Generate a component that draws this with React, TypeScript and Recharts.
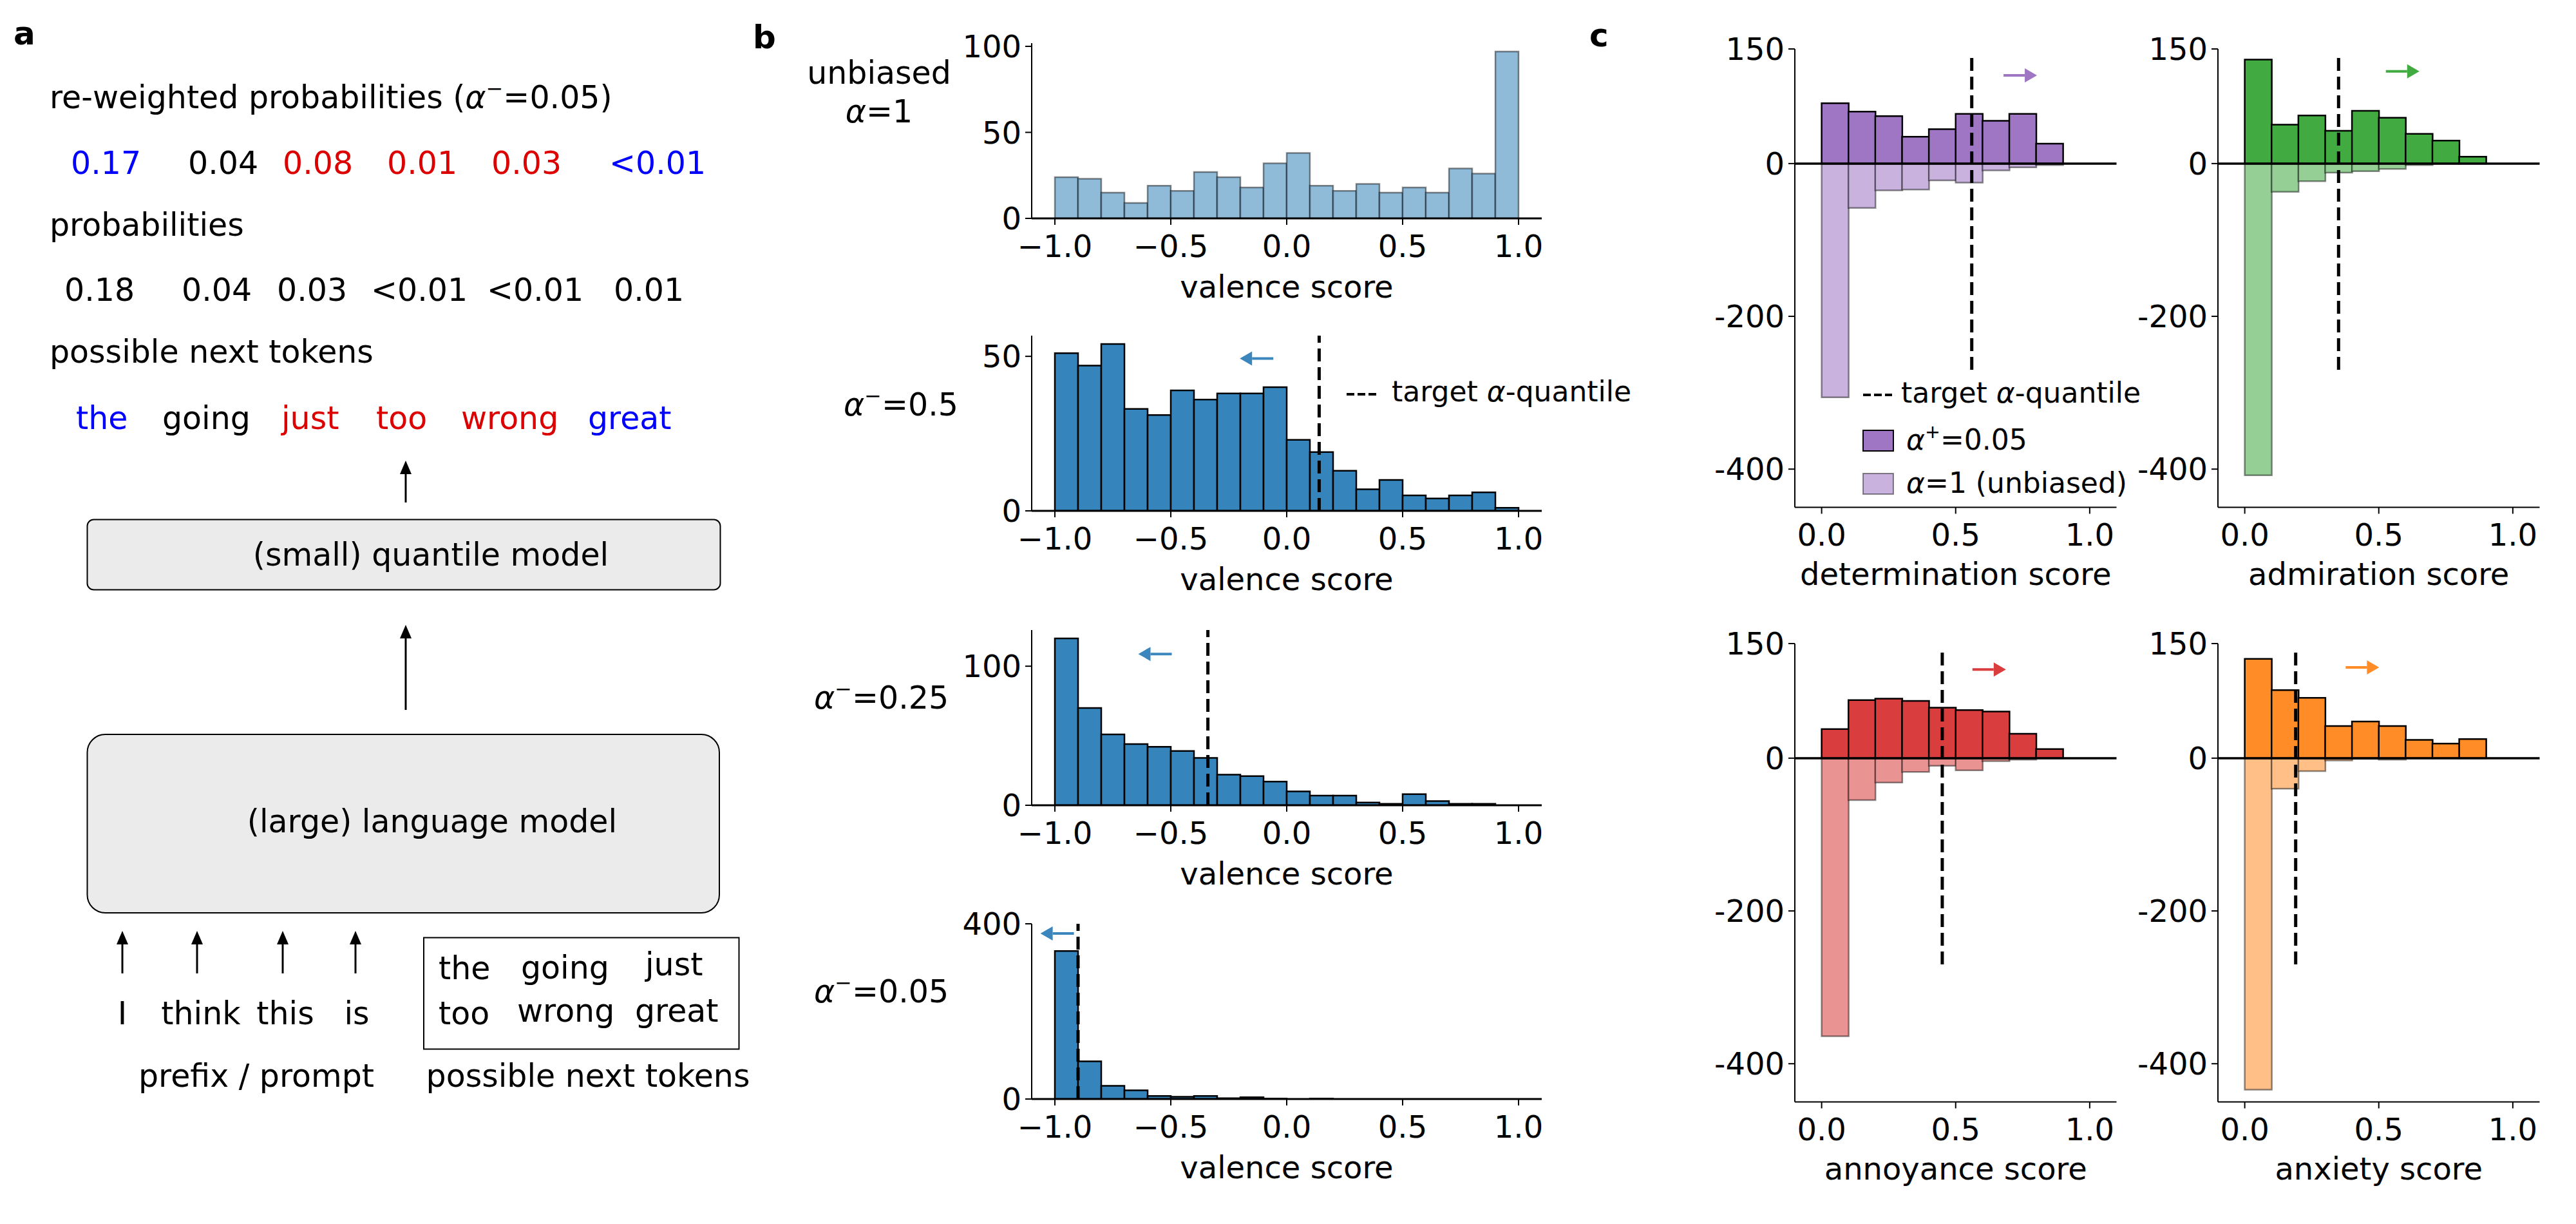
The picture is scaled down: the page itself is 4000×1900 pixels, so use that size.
import React from "react";
import { BarChart, Bar, XAxis, YAxis, ReferenceLine, ReferenceDot, Legend } from "recharts";

document.body.style.margin = "0";

const FONT = "'DejaVu Sans', 'Liberation Sans', sans-serif";
const TXT = 48;

// ---------- panel a (diagram text) ----------
const candidateTokens = ["the", "going", "just", "too", "wrong", "great"];
const reweightedProbs = ["0.17", "0.04", "0.08", "0.01", "0.03", "<0.01"];
const baseProbs = ["0.18", "0.04", "0.03", "<0.01", "<0.01", "0.01"];
const tokenColors = ["#0000ff", "#000000", "#dd0000", "#dd0000", "#dd0000", "#0000ff"];
const promptWords = ["I", "think", "this", "is"];

// ---------- panel b: valence histograms (bins of 0.1) ----------
const valenceBins = [-0.95, -0.85, -0.75, -0.65, -0.55, -0.45, -0.35, -0.25, -0.15, -0.05,
  0.05, 0.15, 0.25, 0.35, 0.45, 0.55, 0.65, 0.75, 0.85, 0.95];
const unbiasedCounts = [24, 23, 15, 9, 19, 16, 27, 24, 18, 32, 38, 19, 16, 20, 15, 18, 15, 29, 26, 97];
const alpha050Counts = [51, 47, 54, 33, 31, 39, 36, 38, 38, 40, 23, 19, 13, 7, 10, 5, 4, 5, 6, 1];
const alpha025Counts = [120, 70, 51, 44, 42, 39, 34, 22, 21, 17, 10, 7, 7, 2, 1, 8, 3, 1, 1, 0];
const alpha005Counts = [338, 86, 30, 20, 7, 5, 7, 2, 4, 1, 0, 1, 0, 0, 0, 0, 0, 0, 0, 0];
const valenceQuantiles = [0.14, -0.34, -0.9];
const valenceTicks = [-1, -0.5, 0, 0.5, 1];

// ---------- panel c: emotion histograms (bins of 0.1) ----------
const scoreBins = [0.05, 0.15, 0.25, 0.35, 0.45, 0.55, 0.65, 0.75, 0.85, 0.95];
const determinationBiased = [79, 68, 62, 35, 45, 65, 56, 65, 26, 0];
const determinationUnbiased = [-306, -58, -35, -34, -22, -25, -9, -5, -2, 0];
const admirationBiased = [136, 51, 63, 43, 69, 60, 39, 30, 9, 0];
const admirationUnbiased = [-408, -37, -23, -12, -10, -7, -2, 0, 0, 0];
const annoyanceBiased = [38, 76, 78, 75, 66, 63, 61, 32, 12, 0];
const annoyanceUnbiased = [-364, -55, -32, -18, -10, -16, -4, -2, 0, 0];
const anxietyBiased = [130, 89, 79, 42, 48, 42, 24, 19, 25, 0];
const anxietyUnbiased = [-434, -40, -17, -3, -1, -2, 0, 0, 0, 0];
const emotionQuantiles = [0.56, 0.35, 0.45, 0.19];
const scoreTicks = [0, 0.5, 1];
const countTicks = [150, 0, -200, -400];

const AXIS_W = 160;
const AXIS_H = 150;
const PAD_T = 40;
const PAD_R = 6;

const axisText = { fontSize: TXT, fill: "#000", fontFamily: FONT };

function arrowShape(dir: number, color: string) {
  return (p: any) => {
    const { cx, cy } = p;
    const tip = cx + dir * 26;
    const base = tip - dir * 19;
    const tail = cx - dir * 26;
    return (
      <g>
        <line x1={tail} y1={cy} x2={base} y2={cy} stroke={color} strokeWidth={4} />
        <path d={`M${tip},${cy} L${base},${cy - 11} L${base},${cy + 11} Z`} fill={color} />
      </g>
    );
  };
}

function AlphaText({ sup, rest, fontSize }: { sup?: string; rest: string; fontSize: number }) {
  return (
    <>
      <tspan fontStyle="italic">α</tspan>
      {sup ? (
        <>
          <tspan fontSize={fontSize * 0.65} dy={-fontSize * 0.4}>{sup}</tspan>
          <tspan dy={fontSize * 0.4}>{rest}</tspan>
        </>
      ) : (
        <tspan>{rest}</tspan>
      )}
    </>
  );
}

const B_LEFT = 1602.3;
const B_W = 792;
const B_H = 272;

const bRows = [
  { top: 66.5, counts: unbiasedCounts, yMax: 101.85, yTicks: [0, 50, 100], fill: "#8fbbd9", edge: 0.45, q: null as number | null, arrow: null as any, legend: false },
  { top: 521, counts: alpha050Counts, yMax: 56.7, yTicks: [0, 50], fill: "#3585bc", edge: 1, q: valenceQuantiles[0], arrow: { x: -0.13, y: 49.3 }, legend: true },
  { top: 977.5, counts: alpha025Counts, yMax: 126, yTicks: [0, 100], fill: "#3585bc", edge: 1, q: valenceQuantiles[1], arrow: { x: -0.568, y: 108.8 }, legend: false },
  { top: 1433.5, counts: alpha005Counts, yMax: 400, yTicks: [0, 400], fill: "#3585bc", edge: 1, q: valenceQuantiles[2], arrow: { x: -0.99, y: 378 }, legend: false },
];

function ValenceHist({ row }: { row: (typeof bRows)[number] }) {
  const data = valenceBins.map((bin, i) => ({ bin, count: row.counts[i] }));
  const boxLeft = B_LEFT - AXIS_W;
  const boxTop = row.top - PAD_T;
  return (
    <div style={{ position: "absolute", left: boxLeft, top: boxTop }}>
      <BarChart
        width={AXIS_W + B_W + PAD_R}
        height={PAD_T + B_H + AXIS_H}
        data={data}
        margin={{ top: PAD_T, right: PAD_R, left: 0, bottom: 0 }}
        barCategoryGap={0}
        barGap={0}
      >
        <XAxis
          type="number"
          dataKey="bin"
          domain={[-1.1, 1.1]}
          allowDataOverflow
          ticks={valenceTicks}
          interval={0}
          height={AXIS_H}
          tick={axisText}
          tickSize={10}
          tickMargin={16}
          tickLine={{ stroke: "#000", strokeWidth: 2 }}
          axisLine={{ stroke: "#000", strokeWidth: 3 }}
          tickFormatter={(v: number) => (v < 0 ? `−${Math.abs(v).toFixed(1)}` : v.toFixed(1))}
          label={{ value: "valence score", position: "insideBottom", offset: 27, fontSize: TXT, fill: "#000" }}
        />
        <YAxis
          type="number"
          domain={[0, row.yMax]}
          allowDataOverflow
          ticks={row.yTicks}
          interval={0}
          width={AXIS_W}
          tick={axisText}
          tickSize={10}
          tickMargin={6}
          tickLine={{ stroke: "#000", strokeWidth: 2 }}
          axisLine={{ stroke: "#000", strokeWidth: 2 }}
        />
        <Bar
          dataKey="count"
          fill={row.fill}
          stroke="#000"
          strokeOpacity={row.edge}
          strokeWidth={2.5}
          isAnimationActive={false}
        />
        {row.q !== null && (
          <ReferenceLine x={row.q} stroke="#000" strokeWidth={5} strokeDasharray="20 9" />
        )}
        {row.arrow && (
          <ReferenceDot x={row.arrow.x} y={row.arrow.y} shape={arrowShape(-1, "#3a86bd")} />
        )}
        {row.legend && (
          <Legend
            layout="horizontal"
            verticalAlign="middle"
            align="center"
            wrapperStyle={{ left: 2080 - boxLeft, top: 570 - boxTop, width: 520, height: 70 }}
            content={() => (
              <svg width={520} height={70} style={{ overflow: "visible", fontFamily: FONT }}>
                <line x1={11} y1={42} x2={57} y2={42} stroke="#000" strokeWidth={4} strokeDasharray="12 5" />
                <text x={81} y={53} fontSize={44} fill="#000">
                  target <tspan fontStyle="italic">α</tspan>-quantile
                </text>
              </svg>
            )}
          />
        )}
      </BarChart>
    </div>
  );
}

const C_W = 499.5;
const C_H = 711.5;

const cPanels = [
  { left: 2786.8, top: 76.3, pos: determinationBiased, neg: determinationUnbiased, q: emotionQuantiles[0], label: "determination score", dark: "#9f76c4", light: "#c9b3de", arrow: { x: 0.741, y: 115.5 }, legend: true },
  { left: 3443.6, top: 76.3, pos: admirationBiased, neg: admirationUnbiased, q: emotionQuantiles[1], label: "admiration score", dark: "#41aa41", light: "#95cf95", arrow: { x: 0.589, y: 120.8 }, legend: false },
  { left: 2786.8, top: 998.9, pos: annoyanceBiased, neg: annoyanceUnbiased, q: emotionQuantiles[2], label: "annoyance score", dark: "#da3d3e", light: "#ea9393", arrow: { x: 0.625, y: 116 }, legend: false },
  { left: 3443.6, top: 998.9, pos: anxietyBiased, neg: anxietyUnbiased, q: emotionQuantiles[3], label: "anxiety score", dark: "#ff8c26", light: "#ffbf86", arrow: { x: 0.439, y: 118.8 }, legend: false },
];

function EmotionHist({ panel }: { panel: (typeof cPanels)[number] }) {
  const data = scoreBins.map((bin, i) => ({ bin, biased: panel.pos[i], unbiased: panel.neg[i] }));
  const boxLeft = panel.left - AXIS_W;
  const boxTop = panel.top - PAD_T;
  return (
    <div style={{ position: "absolute", left: boxLeft, top: boxTop }}>
      <BarChart
        width={AXIS_W + C_W + PAD_R}
        height={PAD_T + C_H + AXIS_H}
        data={data}
        margin={{ top: PAD_T, right: PAD_R, left: 0, bottom: 0 }}
        barCategoryGap={0}
        barGap={0}
        stackOffset="sign"
      >
        <XAxis
          type="number"
          dataKey="bin"
          domain={[-0.1, 1.1]}
          allowDataOverflow
          ticks={scoreTicks}
          interval={0}
          height={AXIS_H}
          tick={axisText}
          tickSize={10}
          tickMargin={15}
          tickLine={{ stroke: "#000", strokeWidth: 2 }}
          axisLine={{ stroke: "#000", strokeWidth: 2 }}
          tickFormatter={(v: number) => v.toFixed(1)}
          label={{ value: panel.label, position: "insideBottom", offset: 30, fontSize: TXT, fill: "#000" }}
        />
        <YAxis
          type="number"
          domain={[-450, 150]}
          allowDataOverflow
          ticks={countTicks}
          interval={0}
          width={AXIS_W}
          tick={axisText}
          tickSize={10}
          tickMargin={6}
          tickLine={{ stroke: "#000", strokeWidth: 2 }}
          axisLine={{ stroke: "#000", strokeWidth: 2 }}
          tickFormatter={(v: number) => String(v)}
        />
        <Bar dataKey="unbiased" stackId="h" fill={panel.light} stroke="#000" strokeOpacity={0.45} strokeWidth={2.5} isAnimationActive={false} />
        <Bar dataKey="biased" stackId="h" fill={panel.dark} stroke="#000" strokeWidth={2.5} isAnimationActive={false} />
        <ReferenceLine y={0} stroke="#000" strokeWidth={3.5} />
        <ReferenceLine
          segment={[{ x: panel.q, y: -270 }, { x: panel.q, y: 145 }]}
          stroke="#000"
          strokeWidth={5}
          strokeDasharray="20 9"
        />
        <ReferenceDot x={panel.arrow.x} y={panel.arrow.y} shape={arrowShape(1, panel.dark)} />
        {panel.legend && (
          <Legend
            layout="horizontal"
            verticalAlign="middle"
            align="center"
            wrapperStyle={{ left: 2880 - boxLeft, top: 580 - boxTop, width: 450, height: 200 }}
            content={() => (
              <svg width={450} height={200} style={{ overflow: "visible", fontFamily: FONT }}>
                <line x1={13} y1={33} x2={58} y2={33} stroke="#000" strokeWidth={4} strokeDasharray="12 5" />
                <text x={72} y={45} fontSize={44} fill="#000">
                  target <tspan fontStyle="italic">α</tspan>-quantile
                </text>
                <rect x={13} y={88} width={47} height={32} fill={panel.dark} stroke="#000" strokeWidth={2} />
                <text x={80} y={118} fontSize={44} fill="#000">
                  <AlphaText sup="+" rest="=0.05" fontSize={44} />
                </text>
                <rect x={13} y={155} width={47} height={32} fill={panel.light} stroke="#000" strokeOpacity={0.45} strokeWidth={2} />
                <text x={80} y={185} fontSize={44} fill="#000">
                  <AlphaText rest="=1 (unbiased)" fontSize={44} />
                </text>
              </svg>
            )}
          />
        )}
      </BarChart>
    </div>
  );
}

function UpArrow({ x, y1, y2 }: { x: number; y1: number; y2: number }) {
  return (
    <g>
      <line x1={x} y1={y1 + 18} x2={x} y2={y2} stroke="#000" strokeWidth={3} />
      <path d={`M${x},${y1} L${x - 9},${y1 + 21} L${x + 9},${y1 + 21} Z`} fill="#000" />
    </g>
  );
}

const reweightedX = [110, 292, 439, 601, 763, 946];
const baseX = [100, 282, 430, 576, 756, 953];
const tokenX = [118, 252, 437, 584, 716, 913];
const promptX = [190, 312, 443, 554];
const promptArrowX = [190, 306, 439, 552];
const boxWordX = [681, 809, 1002, 681, 803, 986];
const boxWordY = [1520, 1519, 1514, 1590, 1586, 1586];

function Overlay() {
  const fs = 49;
  return (
    <svg width={4000} height={1900} style={{ position: "absolute", left: 0, top: 0, fontFamily: FONT }}>
      {/* panel letters */}
      <text x={21} y={69} fontSize={50} fontWeight="bold">a</text>
      <text x={1169} y={75} fontSize={50} fontWeight="bold">b</text>
      <text x={2468} y={72} fontSize={50} fontWeight="bold">c</text>

      {/* panel a */}
      <text x={77} y={168} fontSize={fs}>
        re-weighted probabilities (<AlphaText sup="−" rest="=0.05" fontSize={fs} />)
      </text>
      {reweightedProbs.map((p, i) => (
        <text key={`r${i}`} x={reweightedX[i]} y={270} fontSize={fs} fill={tokenColors[i]}>{p}</text>
      ))}
      <text x={77} y={366} fontSize={fs}>probabilities</text>
      {baseProbs.map((p, i) => (
        <text key={`p${i}`} x={baseX[i]} y={467} fontSize={fs}>{p}</text>
      ))}
      <text x={77} y={563} fontSize={fs}>possible next tokens</text>
      {candidateTokens.map((t, i) => (
        <text key={`t${i}`} x={tokenX[i]} y={666} fontSize={fs} fill={tokenColors[i]}>{t}</text>
      ))}
      <UpArrow x={630} y1={715} y2={780} />
      <rect x={135.5} y={806.5} width={983} height={109} rx={10} fill="#ebebeb" stroke="#000" strokeWidth={2} />
      <text x={669} y={878} fontSize={fs} textAnchor="middle">(small) quantile model</text>
      <UpArrow x={630} y1={970} y2={1102} />
      <rect x={135.5} y={1140} width={981.5} height={277} rx={28} fill="#ebebeb" stroke="#000" strokeWidth={2} />
      <text x={671} y={1292} fontSize={fs} textAnchor="middle">(large) language model</text>
      {promptArrowX.map((x, i) => (
        <UpArrow key={`a${i}`} x={x} y1={1445} y2={1511} />
      ))}
      {promptWords.map((w, i) => (
        <text key={`w${i}`} x={promptX[i]} y={1590} fontSize={fs} textAnchor="middle">{w}</text>
      ))}
      <rect x={658} y={1455.5} width={489.5} height={173} fill="none" stroke="#000" strokeWidth={2} />
      {candidateTokens.map((t, i) => (
        <text key={`b${i}`} x={boxWordX[i]} y={boxWordY[i]} fontSize={fs}>{t}</text>
      ))}
      <text x={398} y={1687} fontSize={fs} textAnchor="middle">prefix / prompt</text>
      <text x={913} y={1687} fontSize={fs} textAnchor="middle">possible next tokens</text>

      {/* panel b row labels */}
      <text x={1365} y={130} fontSize={fs} textAnchor="middle">unbiased</text>
      <text x={1365} y={190} fontSize={fs} textAnchor="middle">
        <AlphaText rest="=1" fontSize={fs} />
      </text>
      <text x={1310} y={645} fontSize={fs}>
        <AlphaText sup="−" rest="=0.5" fontSize={fs} />
      </text>
      <text x={1264} y={1100} fontSize={fs}>
        <AlphaText sup="−" rest="=0.25" fontSize={fs} />
      </text>
      <text x={1264} y={1556} fontSize={fs}>
        <AlphaText sup="−" rest="=0.05" fontSize={fs} />
      </text>
    </svg>
  );
}

export default function App() {
  return (
    <div style={{ position: "relative", width: 4000, height: 1900, background: "#fff", fontFamily: FONT }}>
      <Overlay />
      {bRows.map((row, i) => (
        <ValenceHist key={i} row={row} />
      ))}
      {cPanels.map((panel, i) => (
        <EmotionHist key={i} panel={panel} />
      ))}
    </div>
  );
}
